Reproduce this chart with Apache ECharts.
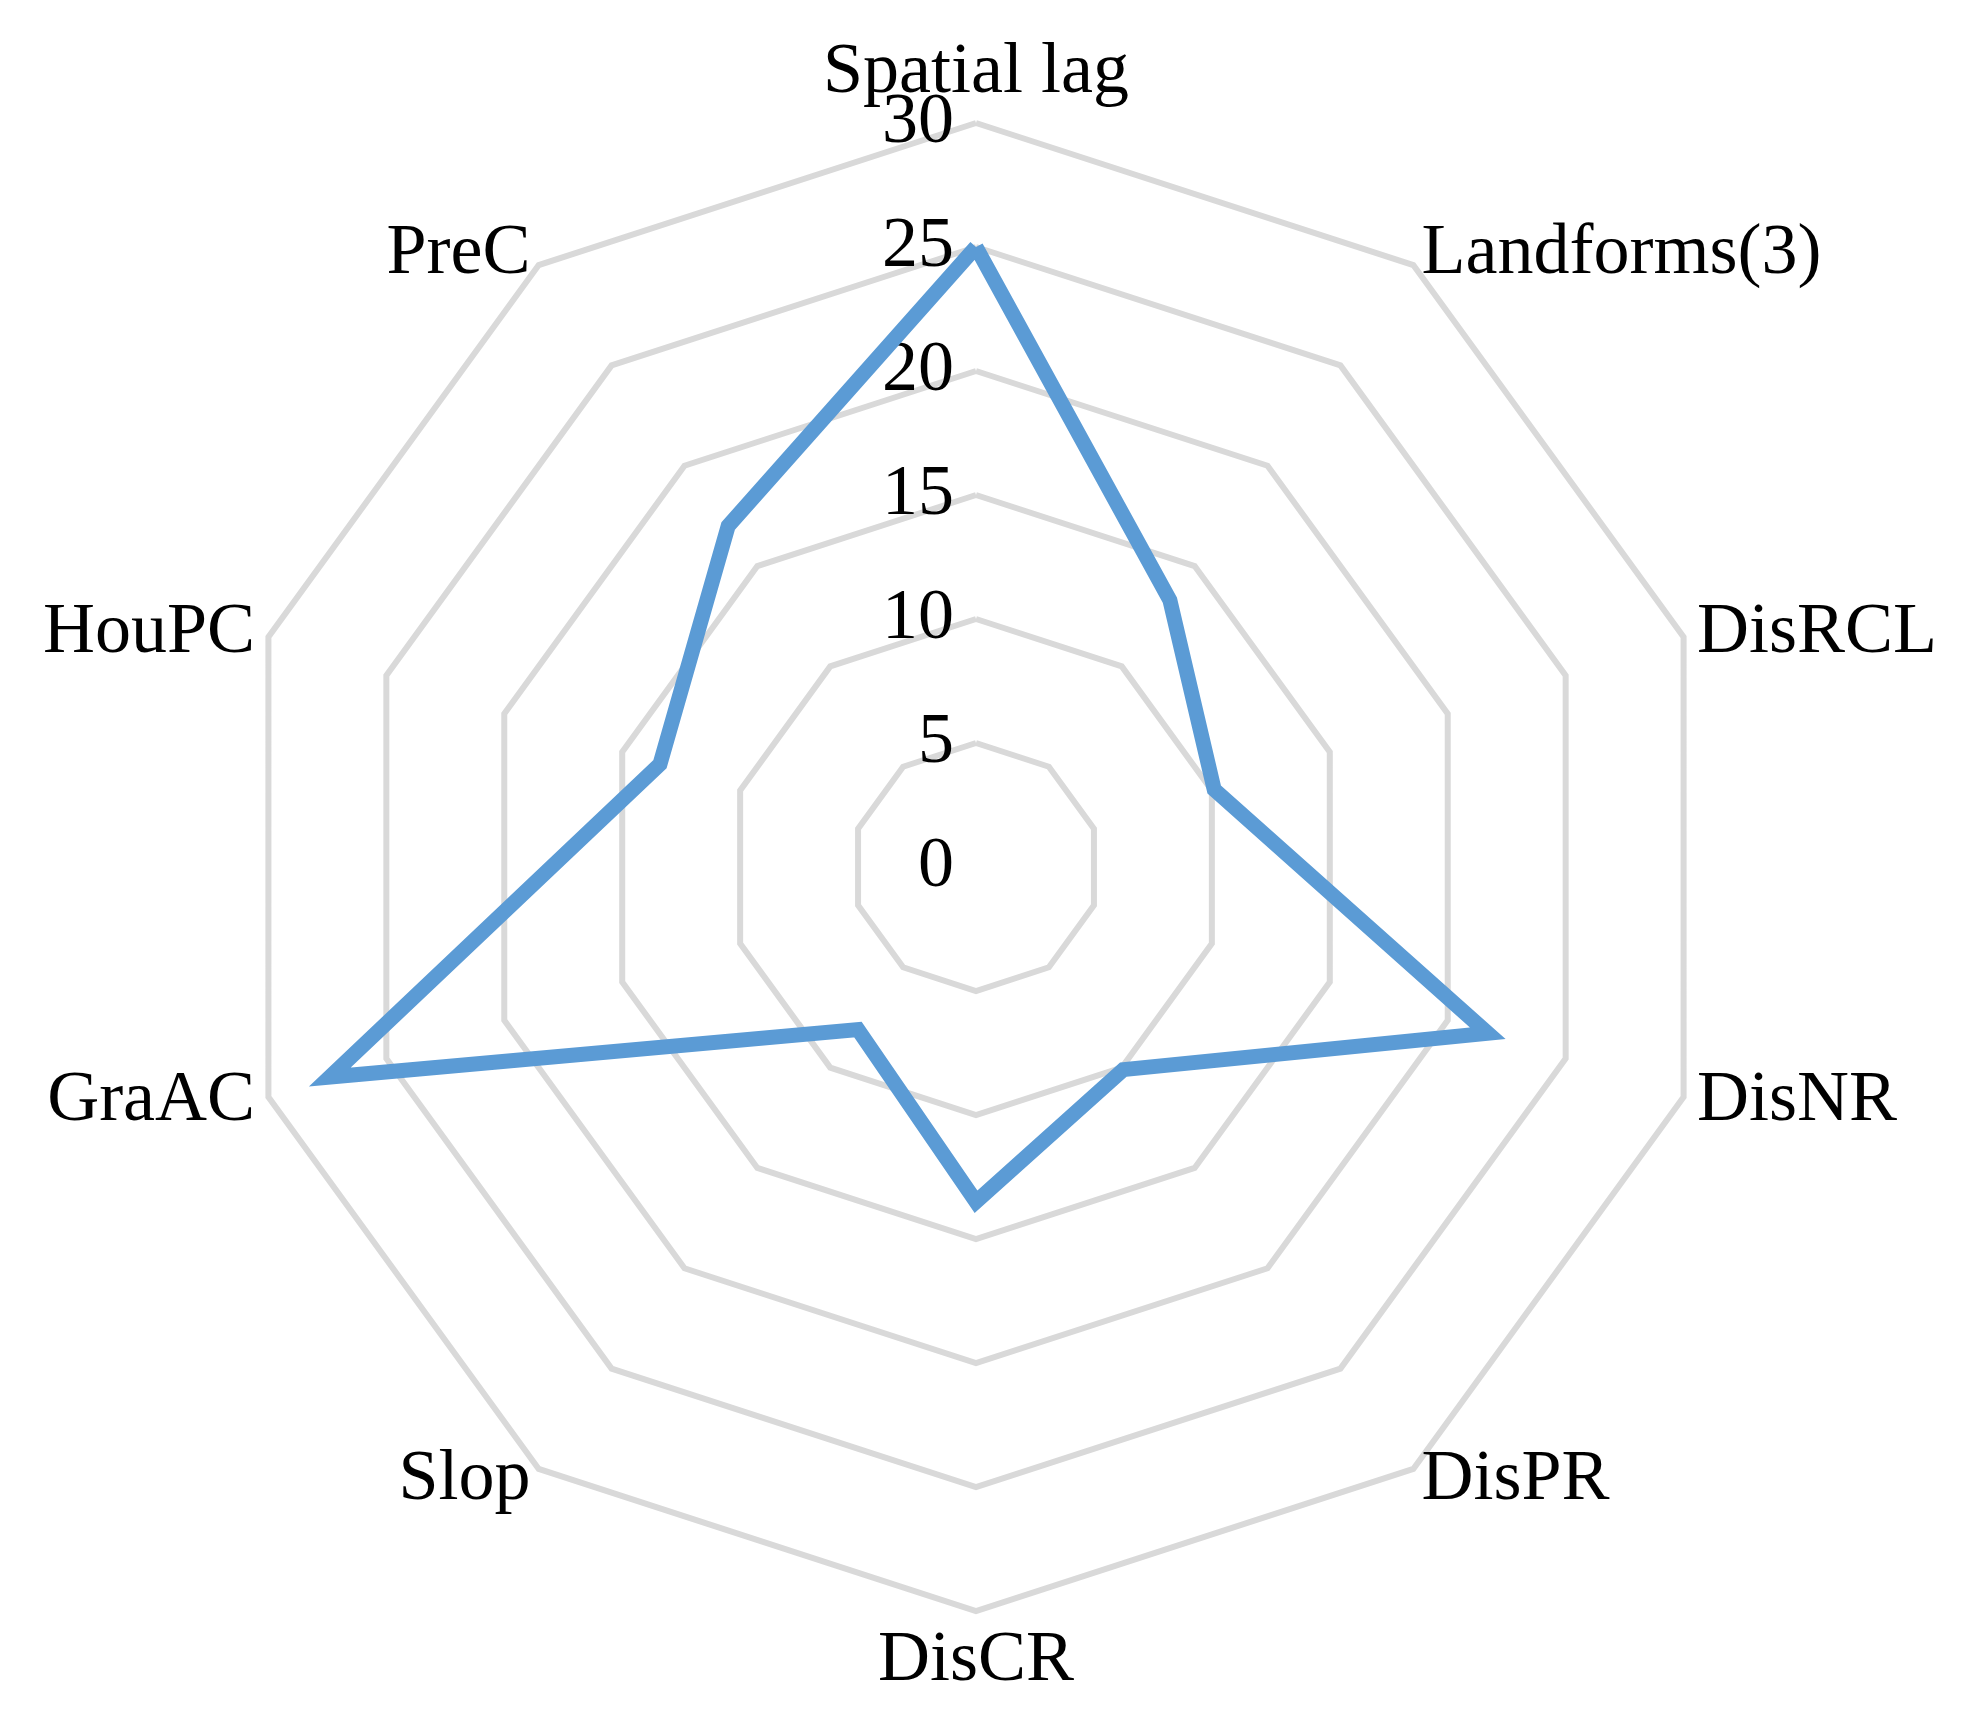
<!DOCTYPE html><html><head><meta charset="utf-8"><script src="https://cdn.jsdelivr.net/npm/echarts@6/dist/echarts.min.js"></script>
<style>html,body{margin:0;background:#fff}#c{width:1975px;height:1727px}</style></head><body><div id="c"></div><script>
const categories=['Spatial lag','Landforms(3)','DisRCL','DisNR','DisPR','DisCR','Slop','GraAC','HouPC','PreC'];
const values=[25,13.3,10.1,21.7,10.1,13.5,8.1,27.4,13.4,17];
const ticks=[0,5,10,15,20,25,30];
// ECharts radar runs counter-clockwise; reorder so the picture runs clockwise
const order=[0].concat(categories.map((_,i)=>i).slice(1).reverse());
const chart=echarts.init(document.getElementById('c'));
chart.setOption({
 animation:false,
 polar:{center:[976,867],radius:744},
 angleAxis:{startAngle:90,min:0,max:360,show:false},
 radiusAxis:{min:ticks[0],max:ticks[ticks.length-1],interval:5,axisLine:{show:false},axisTick:{show:false},splitLine:{show:false},
  axisLabel:{color:'#000',fontFamily:'Liberation Serif',fontSize:72,margin:22,verticalAlign:'middle'}},
 radar:{center:[976,867],radius:744,shape:'polygon',startAngle:90,splitNumber:6,
  indicator:order.map(i=>({name:categories[i],min:0,max:30})),
  axisName:{color:'#000',fontFamily:'Liberation Serif',fontSize:72},
  nameGap:14,
  axisLine:{show:false},
  splitArea:{show:false},
  splitLine:{lineStyle:{color:'#d9d9d9',width:6}},
  axisTick:{show:false},
  axisLabel:{show:false}
 },
 series:[{type:'radar',symbol:'none',data:[{value:order.map(i=>values[i])}],lineStyle:{color:'#5b9bd5',width:15,join:'miter'}}]
});
</script></body></html>
